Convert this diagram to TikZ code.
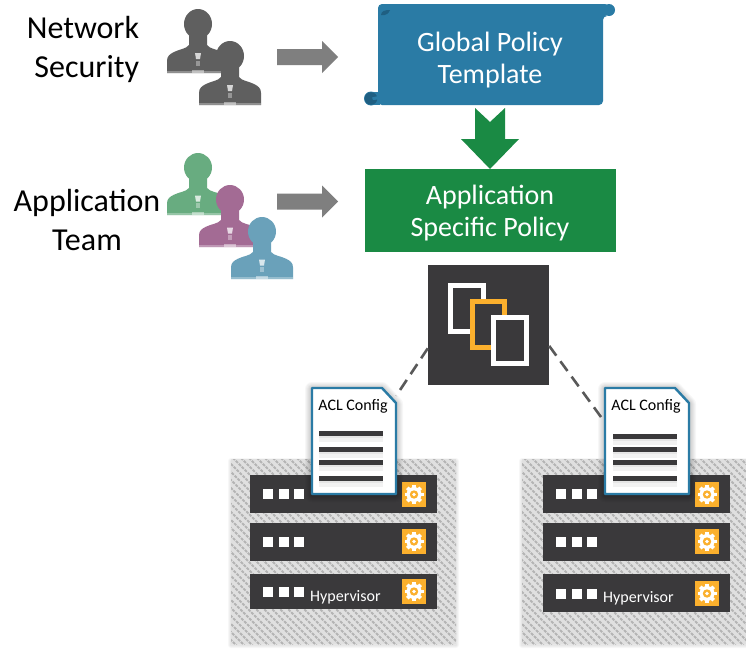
\documentclass[tikz,border=0pt]{standalone}
\usepackage{fontspec}
\setmainfont{Carlito}
\usetikzlibrary{calc}
\definecolor{scrollblue}{HTML}{2A7BA5}
\definecolor{scrolldark}{HTML}{1F5F82}
\definecolor{policygreen}{HTML}{1A8A44}
\definecolor{panel}{HTML}{3A393B}
\definecolor{amber}{HTML}{FBB02D}
\definecolor{darkperson}{HTML}{5F5F5F}
\definecolor{greenperson}{HTML}{68AC80}
\definecolor{purpleperson}{HTML}{A36B94}
\definecolor{blueperson}{HTML}{6AA1BA}
\definecolor{hatchbg}{HTML}{E0E0E0}
\definecolor{hatchline}{HTML}{B4B4B4}
\definecolor{dashgray}{HTML}{595959}
\definecolor{arrowgray}{HTML}{7F7F7F}
\newcommand{\softbox}[5]{%
  \foreach \k in {1,...,#5}{
    \fill[black,opacity=.03,rounded corners=\k pt] ($(#1,#2)+(-\k,-\k)$) rectangle ($(#3,#4)+(\k,\k)$);
  }}
% #1 backdrop shift, #2 content shift, #3 name, #4 third bar bottom, #5 third squares y, #6 third gear y, #7 hypervisor y
\newcommand{\rackunit}[7]{%
  \begin{scope}[xshift=#1pt]
    \softbox{231}{461}{456}{645}{3}
    \fill[hatchbg] (231,459) rectangle (456,644);
    \begin{scope}
      \clip (231,459) rectangle (456,644);
      \foreach \q in {0,8,...,424}{
        \draw[hatchline,line width=1.9pt,dash pattern=on 3pt off 1.2pt] (225+\q,650) -- ++(-200,-200);
      }
    \end{scope}
  \end{scope}
  \begin{scope}[xshift=#2pt]
    \foreach \ya/\yb/\ys/\yg in {475/513/494/494.5, 523/561/542/541.5, 574/#4/#5/#6}{
      \fill[panel] (250,\ya) rectangle (437,\yb);
      \foreach \xs in {268,283.5,298.5}{
        \fill[white] (\xs-5,\ys-5) rectangle (\xs+5,\ys+5);
      }
      \pic at (414,\yg) {geartile};
    }
    \node[hvtext] (#3-hv) at (310,#7) {Hypervisor};
  \end{scope}}
% #1 name, #2 x, #3 y, #4 first rule y, #5 rule inset
\newcommand{\acldoc}[5]{%
  \begin{scope}[shift={(#2,#3)}]
    \foreach \k in {2,4,...,14}{
      \draw[black,opacity=.03,line width=\k pt,line join=round]
        (0,1) -- (70,1) -- (84,16) -- (84,107) -- (0,107) -- cycle;
    }
    \filldraw[fill=white,draw=scrollblue,line width=2.4pt,line join=round]
      (0,0) -- (70,0) -- (84,15) -- (84,106) -- (0,106) -- cycle;
    \node[minimum width=84pt,minimum height=106pt,inner sep=0pt] (#1) at (42,53) {};
    \node[acltext] (#1-label) at (41,18) {ACL Config};
    \foreach \yy in {#4,61,74,90}{
      \fill[black,opacity=.05] (#5,\yy+1) rectangle (#5+64,\yy+9);
      \fill[black,opacity=.05] (#5,\yy+1) rectangle (#5+64,\yy+5);
      \fill[panel] (#5,\yy-2.5) rectangle (#5+64,\yy+2.5);
    }
  \end{scope}}
\tikzset{
  x=1pt,y=-1pt,
  person/.pic={
    \fill[pic actions] (0,64) -- (0,52) .. controls (0,47) and (3,45) .. (7,43)
      .. controls (13,40) and (19,40) .. (22,36) -- (22,26) -- (40,26) -- (40,36)
      .. controls (43,40) and (49,40) .. (55,43)
      .. controls (59,45) and (62,47) .. (62,52) -- (62,64) -- cycle;
    \fill[pic actions] (31,15) ellipse [x radius=14, y radius=15];
    \fill[white,opacity=.75] (28,44) -- (34,44) -- (33,50) -- (29,50) -- cycle;
    \fill[white,opacity=.35] (29,52) rectangle (33,57);
    \fill[white,opacity=.3] (0,62) rectangle (62,64);
    \fill[white,opacity=.45] (25,61) rectangle (37,64);
  },
  geartile/.pic={
    \fill[amber] (-12,-12.5) rectangle (12,12.5);
    \foreach \a in {0,45,...,315}{
      \draw[white,line width=3.6pt] (0,0) -- (\a:9.5);
    }
    \fill[white] (0,0) circle (7.5);
    \fill[amber] (0,0) circle (4.2);
    \fill[white] (0,0) circle (1.8);
  },
  headtext/.style={font=\fontsize{32}{39.5}\selectfont,text=black,inner sep=0pt},
  boxtext/.style={font=\fontsize{28}{32}\selectfont,align=center,text=white,inner sep=0pt},
  acltext/.style={font=\fontsize{16}{18}\selectfont,text=black,inner sep=0pt},
  hvtext/.style={font=\fontsize{16}{18}\selectfont,text=white,inner sep=0pt,anchor=west},
  blockarrow/.style={fill=arrowgray},
  linkdash/.style={draw=dashgray,line width=2.6pt,dash pattern=on 12pt off 7pt},
  frameicon/.style={draw=#1,line width=5pt,fill=panel},
}
\begin{document}
\begin{tikzpicture}
\path[use as bounding box] (0,0) rectangle (746,648);
\fill[white] (0,0) rectangle (746,648);

% left labels
\node[headtext,align=right] (netsec) at (83,49.5) {Network\\Security};
\node[headtext,align=center] (appteam) at (87,220) {Application\\Team};

% people
\pic[fill=darkperson] at (167,9) {person};
\pic[fill=darkperson] at (199,41) {person};
\pic[fill=greenperson,yscale=.97] at (167,153) {person};
\pic[fill=purpleperson,yscale=.97] at (199,185) {person};
\pic[fill=blueperson,yscale=.97] at (231,217) {person};

% grey block arrows
\foreach \cy in {57,201.5}{
  \fill[blockarrow] (277,\cy-8) -- (322,\cy-8) -- (322,\cy-16) -- (338,\cy) -- (322,\cy+16) -- (322,\cy+8) -- (277,\cy+8) -- cycle;
}

% scroll
\fill[scrollblue,rounded corners=4pt] (378,105) -- (378,4) -- (609,4) -- (609,16) -- (603,16) -- (603,105) -- cycle;
\fill[scrollblue] (609,10) circle (6);
\fill[scrollblue] (371,98.5) circle (7);
\fill[scrollblue] (371,92) rectangle (380,105);
\fill[scrolldark] (371,98.5) circle (6.3);
\fill[scrollblue] (372,97.5) -- (378,96) -- (378,99.5) -- (373,100) -- cycle;
\fill[scrolldark] (381,15) .. controls (381,11) and (385,10) .. (390,10) .. controls (389,13) and (386,16) .. (381,15) -- cycle;
\node[boxtext] (global) at (490,60) {Global Policy\\Template};

% green arrow
\fill[policygreen] (475,108) -- (490,122) -- (505,108) -- (505,139) -- (519,139) -- (490,169) -- (461,139) -- (475,139) -- cycle;

% green box
\node[fill=policygreen,minimum width=251pt,minimum height=83pt,inner sep=0pt] (appbox) at (490.5,210.5) {};
\node[boxtext] (apptext) at (490,213) {Application\\Specific Policy};

% racks
\rackunit{0}{0}{rackL}{609}{592}{591.5}{597}
\rackunit{291}{293}{rackR}{612}{594}{593.5}{598}
\fill[white] (746,440) rectangle (790,648);

% docs
\acldoc{docL}{312}{388}{45}{7}
\acldoc{docR}{605}{388}{48}{8}

% controller
\node[fill=panel,minimum width=121pt,minimum height=120pt,inner sep=0pt] (ctrl) at (488.5,325) {};
\draw[frameicon=white] (450.5,285.5) rectangle (483.5,331.5);
\draw[frameicon=amber] (472.5,301.5) rectangle (504.5,347.5);
\draw[frameicon=white] (493.5,317.5) rectangle (526.5,363.5);

% dashed links
\draw[linkdash] (ctrl.201.6) -- (docL.47);
\draw[linkdash] (ctrl.-19.4) -- (docR.156.8);
\end{tikzpicture}
\end{document}
